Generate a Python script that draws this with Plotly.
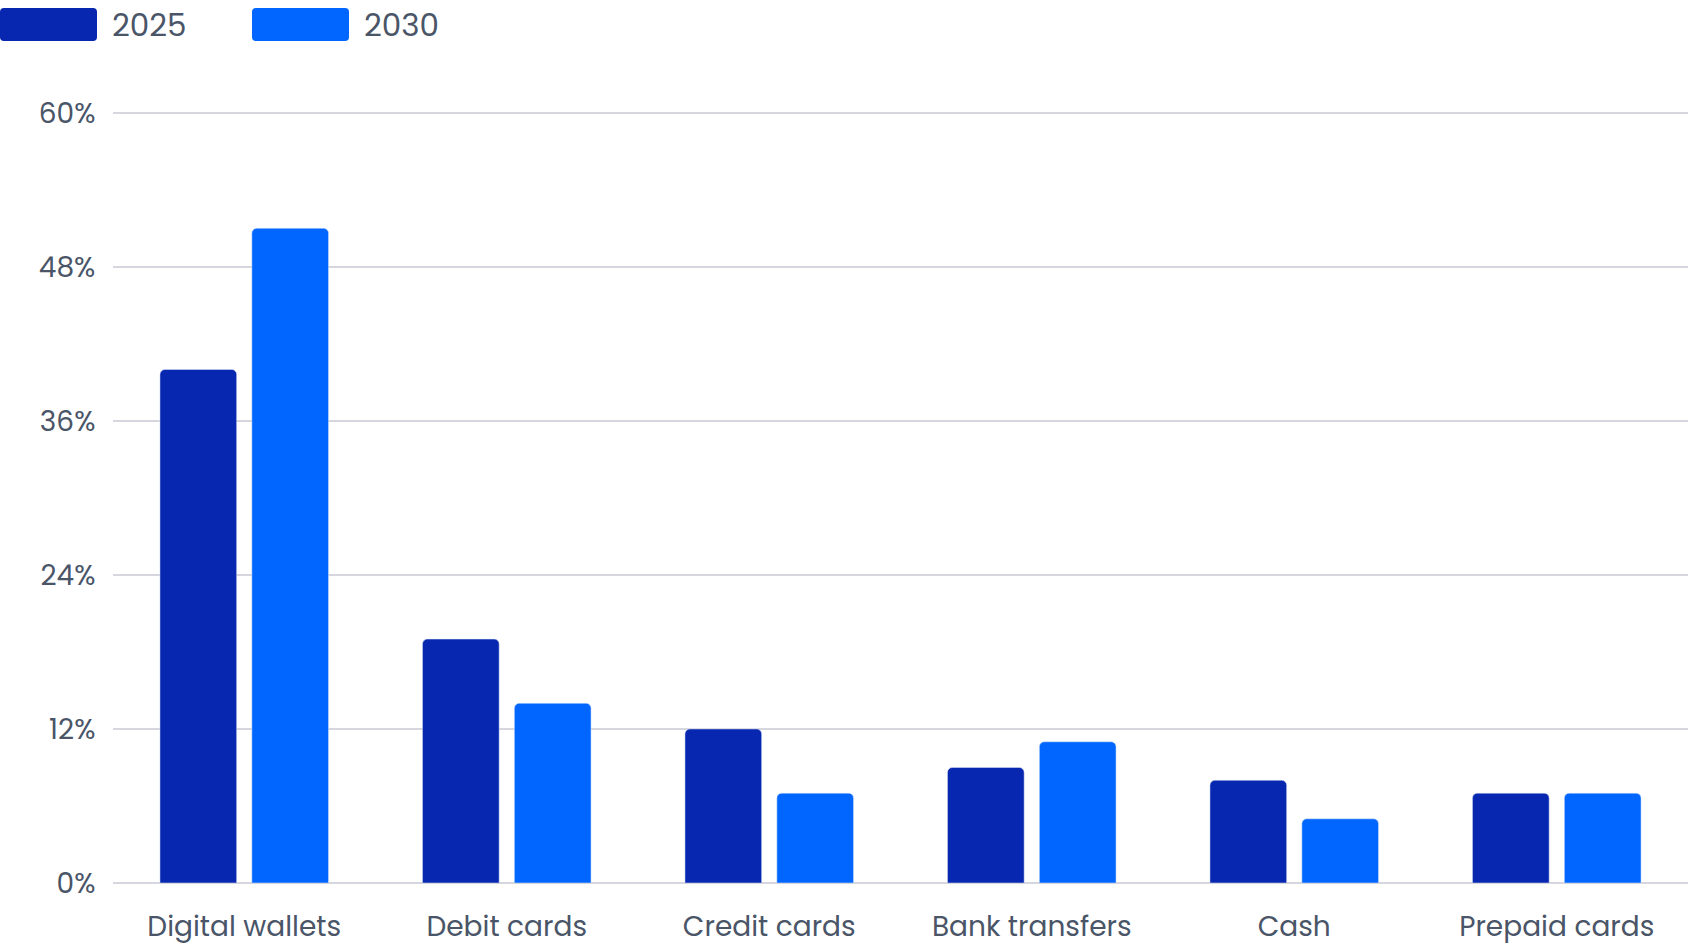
import plotly.graph_objects as go

categories = ["Digital wallets", "Debit cards", "Credit cards", "Bank transfers", "Cash", "Prepaid cards"]
share_2025 = [40, 19, 12, 9, 8, 7]
share_2030 = [51, 14, 7, 11, 5, 7]
series_names = ["2025", "2030"]
y_ticks = [0, 12, 24, 36, 48, 60]

dark_blue = "#0727B0"
bright_blue = "#0066FF"
text_col = "#4A5568"
grid_col = "#D6D6DE"
font_fam = "Poppins, Open Sans, sans-serif"

W, H = 1688, 948
ml, mr, mt, mb = 113, 0, 105, 65
pw, ph = W - ml - mr, H - mt - mb
y_top = 60.6  # a little headroom so the 60% grid line is drawn


def px_x(x):
    return (x - ml) / pw


def px_y(y):
    return (H - mb - y) / ph


def rounded_box(x0, y0, x1, y1, r=4):
    # pixel box -> paper path with small rounded corners
    X0, X1 = px_x(x0), px_x(x1)
    Y0, Y1 = px_y(y0), px_y(y1)
    rx, ry = r / pw, r / ph
    return (f"M {X0 + rx},{Y0} L {X1 - rx},{Y0} Q {X1},{Y0} {X1},{Y0 - ry} "
            f"L {X1},{Y1 + ry} Q {X1},{Y1} {X1 - rx},{Y1} L {X0 + rx},{Y1} "
            f"Q {X0},{Y1} {X0},{Y1 + ry} L {X0},{Y0 - ry} Q {X0},{Y0} {X0 + rx},{Y0} Z")


fig = go.Figure()
fig.add_trace(go.Bar(x=categories, y=share_2025, name=series_names[0], marker_color=dark_blue))
fig.add_trace(go.Bar(x=categories, y=share_2030, name=series_names[1], marker_color=bright_blue))

# custom legend swatches along the top
legend_boxes = [(0, 97), (252, 349)]
legend_text_x = [110, 362]
for (bx0, bx1), tx, name, col in zip(legend_boxes, legend_text_x, series_names, [dark_blue, bright_blue]):
    fig.add_shape(type="path", path=rounded_box(bx0, 8, bx1, 41), xref="paper", yref="paper",
                  fillcolor=col, line_width=0)
    fig.add_annotation(x=px_x(tx), y=px_y(25), xref="paper", yref="paper", text=name,
                       showarrow=False, xanchor="left", yanchor="middle",
                       font=dict(size=31, color=text_col, family=font_fam))

fig.update_layout(
    width=W, height=H,
    margin=dict(l=ml, r=mr, t=mt, b=mb),
    paper_bgcolor="white", plot_bgcolor="white",
    barmode="group", bargap=0.30, bargroupgap=0.165,
    barcornerradius=5,
    showlegend=False,
    font=dict(family=font_fam, color=text_col, size=28),
)
fig.update_xaxes(showgrid=False, showline=False, ticks="outside", ticklen=18,
                 tickcolor="rgba(0,0,0,0)", tickfont=dict(size=28, color=text_col))
fig.update_yaxes(range=[0, y_top], tickvals=y_ticks, ticktext=[f"{v}%" for v in y_ticks],
                 showgrid=True, gridcolor=grid_col, gridwidth=2,
                 zeroline=True, zerolinecolor=grid_col, zerolinewidth=2,
                 ticks="outside", ticklen=11, tickcolor="rgba(0,0,0,0)",
                 tickfont=dict(size=28, color=text_col))

# let the figure fill the window edge to edge
fig.write_html("out.html", config={"displayModeBar": False},
               post_script="document.body.style.margin='0';document.body.style.overflow='hidden';")
